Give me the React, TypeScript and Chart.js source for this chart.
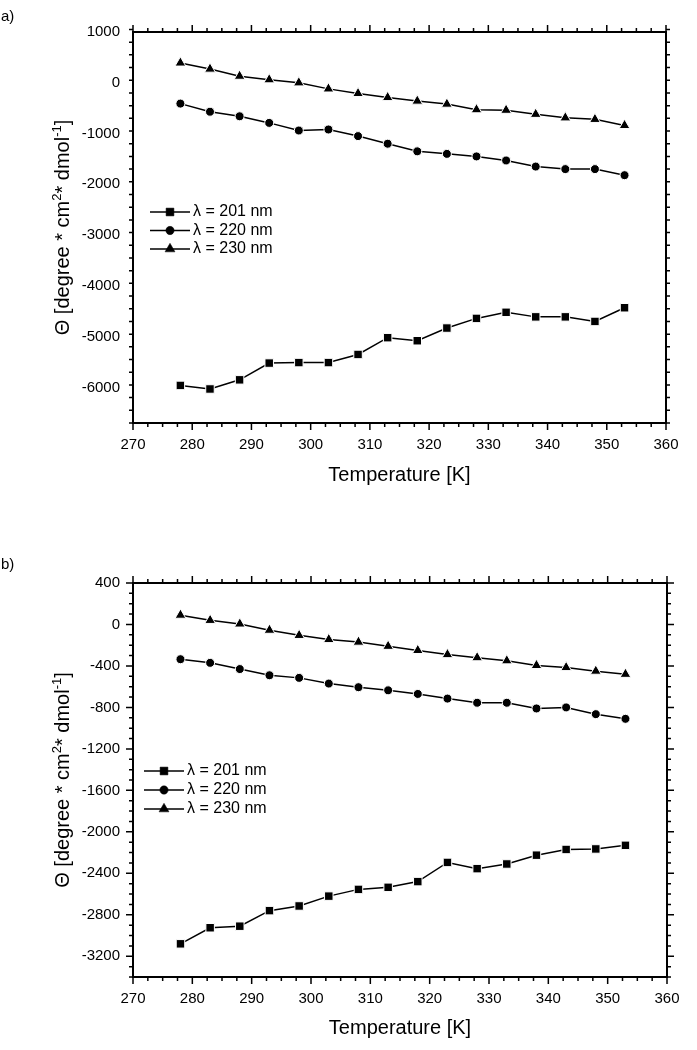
import React, { useEffect, useRef } from 'react';
import { Chart, registerables } from 'chart.js';
import { drawPoint } from 'chart.js/helpers';

Chart.register(...registerables);

// ---------- data ----------
const temperatures = [278, 283, 288, 293, 298, 303, 308, 313, 318, 323, 328, 333, 338, 343, 348, 353];
const xTicks = [270, 280, 290, 300, 310, 320, 330, 340, 350, 360];

const a201 = [-5960, -6030, -5850, -5520, -5510, -5510, -5350, -5020, -5080, -4830, -4640, -4520, -4610, -4610, -4700, -4430];
const a220 = [-410, -570, -660, -790, -940, -920, -1050, -1200, -1350, -1400, -1450, -1530, -1650, -1700, -1700, -1820];
const a230 = [390, 270, 130, 60, 0, -120, -210, -290, -360, -420, -530, -540, -620, -690, -720, -840];
const yTicksA = [1000, 0, -1000, -2000, -3000, -4000, -5000, -6000];

const b201 = [-3080, -2925, -2910, -2760, -2715, -2620, -2555, -2535, -2480, -2295, -2355, -2310, -2225, -2170, -2165, -2130];
const b220 = [-335, -370, -430, -490, -515, -570, -605, -635, -670, -715, -755, -755, -810, -800, -865, -910];
const b230 = [90, 40, 5, -55, -105, -145, -170, -210, -250, -290, -320, -350, -395, -415, -450, -480];
const yTicksB = [400, 0, -400, -800, -1200, -1600, -2000, -2400, -2800, -3200];

const seriesLabels = ['λ = 201 nm', 'λ = 220 nm', 'λ = 230 nm'];
const xTitle = 'Temperature [K]';
const yTitleParts = [
  { t: 'Θ [degree * cm', sup: false },
  { t: '2', sup: true },
  { t: '* dmol', sup: false },
  { t: '-1', sup: true },
  { t: ']', sup: false },
];

const FONT = '"Liberation Sans", Arial, Helvetica, sans-serif';

const pointStyles = ['rect', 'circle', 'triangle'];
const pointRadii = [6, 4.5, 6.2];

// ---------- decoration plugin ----------
const decorPlugin = {
  id: 'decor',
  afterDraw(chart: any, _args: any, opts: any) {
    const ctx = chart.ctx;
    const ca = chart.chartArea;
    const xs = chart.scales.x;
    const ys = chart.scales.y;
    ctx.save();
    ctx.strokeStyle = '#000';
    ctx.fillStyle = '#000';

    // ticks (major + minor) on all four sides, outward
    ctx.lineWidth = 1.5;
    ctx.beginPath();
    const nx = Math.round((xs.max - xs.min) / opts.xMinor);
    for (let i = 0; i <= nx; i++) {
      const v = xs.min + i * opts.xMinor;
      const major = Math.abs(v / opts.xMajor - Math.round(v / opts.xMajor)) < 1e-6;
      const len = major ? 7 : 4;
      const px = xs.getPixelForValue(v);
      ctx.moveTo(px, ca.bottom);
      ctx.lineTo(px, ca.bottom + len);
      ctx.moveTo(px, ca.top);
      ctx.lineTo(px, ca.top - len);
    }
    const ny = Math.round((ys.max - ys.min) / opts.yMinor);
    for (let i = 0; i <= ny; i++) {
      const v = ys.min + i * opts.yMinor;
      const major = Math.abs(v / opts.yMajor - Math.round(v / opts.yMajor)) < 1e-6;
      const len = major ? 7 : 4;
      const py = ys.getPixelForValue(v);
      ctx.moveTo(ca.left, py);
      ctx.lineTo(ca.left - len, py);
      ctx.moveTo(ca.right, py);
      ctx.lineTo(ca.right + len, py);
    }
    ctx.stroke();

    // frame
    ctx.lineWidth = 2;
    ctx.strokeRect(ca.left, ca.top, ca.right - ca.left, ca.bottom - ca.top);

    // x title
    ctx.font = `20px ${FONT}`;
    ctx.textAlign = 'center';
    ctx.textBaseline = 'middle';
    ctx.fillText(xTitle, (ca.left + ca.right) / 2, opts.xTitleY);

    // y title with superscripts
    const mainSize = 20;
    const supSize = 13;
    const widths = yTitleParts.map((p) => {
      ctx.font = `${p.sup ? supSize : mainSize}px ${FONT}`;
      return ctx.measureText(p.t).width;
    });
    const total = widths.reduce((a, b) => a + b, 0);
    ctx.save();
    ctx.translate(opts.yTitleX, (ca.top + ca.bottom) / 2);
    ctx.rotate(-Math.PI / 2);
    ctx.textAlign = 'left';
    ctx.textBaseline = 'alphabetic';
    let cx = -total / 2;
    const base = 7;
    yTitleParts.forEach((p, i) => {
      ctx.font = `${p.sup ? supSize : mainSize}px ${FONT}`;
      ctx.fillText(p.t, cx, p.sup ? base - 8 : base);
      cx += widths[i];
    });
    ctx.restore();

    // panel label
    ctx.font = `15px ${FONT}`;
    ctx.textAlign = 'left';
    ctx.textBaseline = 'middle';
    ctx.fillText(opts.panel, 1, opts.panelY);

    // legend
    chart.data.datasets.forEach((ds: any, i: number) => {
      const y = opts.legendY + i * opts.legendGap;
      const x0 = opts.legendX;
      ctx.lineWidth = 1.5;
      ctx.strokeStyle = '#000';
      ctx.beginPath();
      ctx.moveTo(x0, y);
      ctx.lineTo(x0 + 40, y);
      ctx.stroke();
      ctx.fillStyle = '#000';
      ctx.lineWidth = 0.5;
      drawPoint(ctx, { pointStyle: ds.pointStyle, radius: ds.pointRadius * 0.92, borderWidth: 0.5, rotation: 0 } as any, x0 + 20, y);
      ctx.font = `16px ${FONT}`;
      ctx.textAlign = 'left';
      ctx.textBaseline = 'middle';
      ctx.fillText(ds.label, x0 + 43, y);
    });

    ctx.restore();
  },
};

function makeConfig(series: number[][], yTicks: number[], yMin: number, yMax: number, layout: any, decor: any) {
  return {
    type: 'line' as const,
    data: {
      datasets: series.map((vals, i) => ({
        label: seriesLabels[i],
        data: temperatures.map((t, j) => ({ x: t, y: vals[j] })),
        borderColor: '#000',
        borderWidth: 1.5,
        pointStyle: pointStyles[i],
        pointRadius: pointRadii[i],
        pointBackgroundColor: '#000',
        pointBorderColor: '#fff',
        pointBorderWidth: 1,
        tension: 0,
        fill: false,
      })),
    },
    options: {
      animation: false,
      responsive: false,
      events: [],
      layout: { padding: layout.padding },
      plugins: {
        legend: { display: false },
        tooltip: { enabled: false },
        decor,
      },
      scales: {
        x: {
          type: 'linear',
          min: 270,
          max: 360,
          afterBuildTicks: (s: any) => {
            s.ticks = xTicks.map((v) => ({ value: v }));
          },
          afterFit: (s: any) => {
            s.height = layout.xHeight;
          },
          ticks: {
            font: { size: 15, family: FONT },
            color: '#000',
            padding: 13,
            maxRotation: 0,
            autoSkip: false,
            callback: (v: any) => String(v),
          },
          grid: { display: false, drawTicks: false },
          border: { display: false },
        },
        y: {
          type: 'linear',
          min: yMin,
          max: yMax,
          afterBuildTicks: (s: any) => {
            s.ticks = yTicks.map((v) => ({ value: v }));
          },
          afterFit: (s: any) => {
            s.width = layout.yWidth;
          },
          ticks: {
            font: { size: 15, family: FONT },
            color: '#000',
            padding: 13,
            autoSkip: false,
            callback: (v: any) => String(v),
          },
          grid: { display: false, drawTicks: false },
          border: { display: false },
        },
      },
    },
    plugins: [decorPlugin],
  };
}

function Panel(props: { width: number; height: number; config: any }) {
  const ref = useRef<HTMLCanvasElement | null>(null);
  useEffect(() => {
    if (!ref.current) return;
    const chart = new Chart(ref.current, props.config);
    return () => chart.destroy();
  }, []);
  return (
    <canvas
      ref={ref}
      width={props.width}
      height={props.height}
      style={{ display: 'block', width: props.width, height: props.height }}
    />
  );
}

export default function App() {
  const configA = makeConfig(
    [a201, a220, a230],
    yTicksA,
    -6700,
    1000,
    { padding: { top: 32, right: 31, left: 0, bottom: 0 }, xHeight: 117, yWidth: 133 },
    { panel: 'a)', panelY: 17, yTitleX: 62, xTitleY: 475, legendX: 150, legendY: 212, legendGap: 18.5, xMinor: 2.5, xMajor: 10, yMinor: 250, yMajor: 1000 }
  );
  const configB = makeConfig(
    [b201, b220, b230],
    yTicksB,
    -3400,
    400,
    { padding: { top: 43, right: 30, left: 0, bottom: 0 }, xHeight: 73, yWidth: 133 },
    { panel: 'b)', panelY: 25, yTitleX: 62, xTitleY: 488, legendX: 144, legendY: 231, legendGap: 19, xMinor: 2.5, xMajor: 10, yMinor: 100, yMajor: 400 }
  );
  return (
    <div style={{ position: 'absolute', left: 0, top: 0, width: 697, height: 1050, background: '#fff' }}>
      <Panel width={697} height={540} config={configA} />
      <Panel width={697} height={510} config={configB} />
    </div>
  );
}
